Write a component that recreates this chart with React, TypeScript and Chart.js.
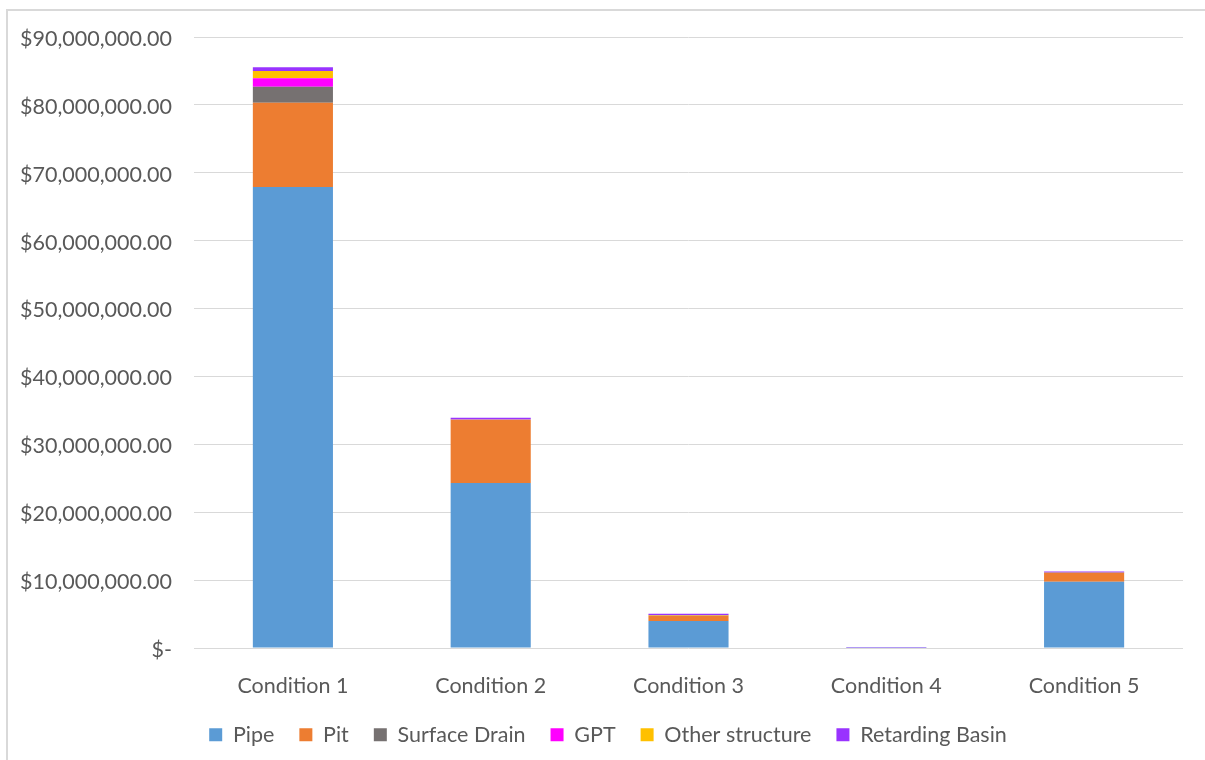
import React, { useEffect, useRef } from "react";
import { Chart, registerables } from "chart.js";

Chart.register(...registerables);

// Cost by condition, stacked per asset type (AUD)
const categories = ["Condition 1", "Condition 2", "Condition 3", "Condition 4", "Condition 5"];

const pipe = [67900000, 24300000, 3980000, 30000, 9770000];
const pit = [12400000, 9300000, 780000, 20000, 1320000];
const surfaceDrain = [2360000, 30000, 20000, 0, 20000];
const gpt = [1280000, 20000, 20000, 0, 0];
const otherStructure = [1070000, 50000, 50000, 0, 20000];
const retardingBasin = [550000, 200000, 200000, 50000, 150000];

const yMax = 90000000;
const yStep = 10000000;

const FONT = "Lato, 'Open Sans', sans-serif";
const TEXT = "#595959";
const GRID = "#d9d9d9";

function money(v: number): string {
  if (v === 0) return "$-";
  return "$" + v.toLocaleString("en-US", { minimumFractionDigits: 2, maximumFractionDigits: 2 });
}

// Nudges the legend row to the right so it sits centred under the whole frame
const legendNudge = {
  id: "legendNudge",
  afterLayout(chart: any) {
    const lg = chart.legend;
    if (!lg) return;
    lg.left += 9;
    lg.right += 9;
  },
};

export default function App() {
  const canvasRef = useRef<HTMLCanvasElement | null>(null);

  useEffect(() => {
    if (!canvasRef.current) return;
    const series = [
      { label: "Pipe", data: pipe, color: "#5B9BD5" },
      { label: "Pit", data: pit, color: "#ED7D31" },
      { label: "Surface Drain", data: surfaceDrain, color: "#767171" },
      { label: "GPT", data: gpt, color: "#FF00FF" },
      { label: "Other structure", data: otherStructure, color: "#FFC000" },
      { label: "Retarding Basin", data: retardingBasin, color: "#9933FF" },
    ];
    const chart = new Chart(canvasRef.current, {
      type: "bar",
      data: {
        labels: categories,
        datasets: series.map((s) => ({
          label: s.label,
          data: s.data,
          backgroundColor: s.color,
          borderWidth: 0,
          categoryPercentage: 1,
          barPercentage: 0.405,
        })),
      },
      plugins: [legendNudge],
      options: {
        animation: false,
        responsive: false,
        maintainAspectRatio: false,
        layout: { padding: { left: 15, top: 37, right: 22, bottom: 11 } },
        plugins: {
          tooltip: { enabled: false },
          legend: {
            position: "bottom",
            maxHeight: 50,
            labels: {
              boxWidth: 13,
              boxHeight: 13,
              padding: 25,
              color: TEXT,
              font: { family: FONT, size: 21.5 },
            },
          },
        },
        scales: {
          x: {
            stacked: true,
            grid: { display: false },
            border: { display: false },
            ticks: {
              color: TEXT,
              padding: 17,
              font: { family: FONT, size: 21.5 },
            },
            afterFit: (scale: any) => {
              scale.height = 51;
            },
          },
          y: {
            stacked: true,
            min: 0,
            max: yMax,
            grid: { color: GRID, lineWidth: 1, drawTicks: false },
            border: { display: false },
            ticks: {
              stepSize: yStep,
              color: TEXT,
              padding: 22,
              labelOffset: 2,
              font: { family: FONT, size: 21.5 },
              callback: (v: any) => money(Number(v)),
            },
            afterFit: (scale: any) => {
              scale.width = 179;
            },
          },
        },
      },
    });
    return () => chart.destroy();
  }, []);

  return (
    <div
      style={{
        position: "fixed",
        left: 0,
        top: 0,
        width: 1205,
        height: 760,
        overflow: "hidden",
        background: "#ffffff",
      }}
    >
      <div
        style={{
          position: "absolute",
          left: 6,
          top: 9,
          width: 1300,
          height: 900,
          border: "2px solid #d9d9d9",
          boxSizing: "border-box",
        }}
      />
      <canvas
        ref={canvasRef}
        width={1205}
        height={760}
        style={{ position: "absolute", left: 0, top: 0, width: 1205, height: 760 }}
      />
    </div>
  );
}
